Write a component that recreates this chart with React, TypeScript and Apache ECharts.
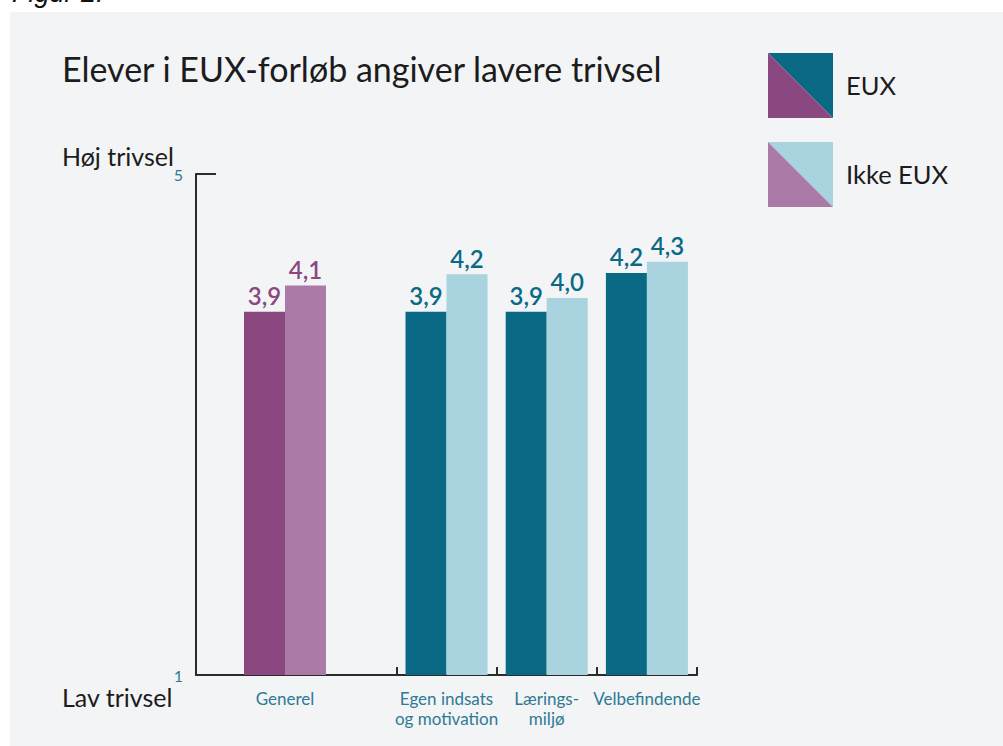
import React, { useEffect, useRef } from "react";
import * as echarts from "echarts";

const mainCategories = ["", "", "Egen indsats\nog motivation", "Lærings-\nmiljø", "Velbefindende"];
const generalCategory = ["Generel"];
const seriesNames = ["EUX", "Ikke EUX"];
const generalEux = [3.9];
const generalIkke = [4.11];
const euxValues: (number | string)[] = ["-", "-", 3.9, 3.9, 4.21];
const ikkeValues: (number | string)[] = ["-", "-", 4.2, 4.01, 4.3];
const yLabelValues = [1, 5];
const yTickValues = [5];

const PURPLE = "#8b4880";
const PURPLE_L = "#ab7ba8";
const TEAL = "#0a6a86";
const TEAL_L = "#a8d3df";
const CAT = "#2d7a93";
const AXIS = "#2b2b2b";
const FONT = "Lato";

const fmt = (p: any) => Number(p.value).toFixed(1).replace(".", ",");

export default function App() {
  const ref = useRef<HTMLDivElement>(null);
  useEffect(() => {
    if (!ref.current) return;
    const chart = echarts.init(ref.current, null, { renderer: "svg" });
    const barLabel = (color: string) => ({
      show: true,
      position: "top",
      distance: 4,
      formatter: fmt,
      color,
      fontFamily: FONT,
      fontSize: 24,
      fontWeight: 600,
    });
    const catLabel = {
      color: CAT,
      fontFamily: FONT,
      fontSize: 17,
      lineHeight: 20,
      margin: 13,
    };
    chart.setOption({
      animation: false,
      backgroundColor: "#ffffff",
      textStyle: { fontFamily: FONT },
      grid: [
        { left: 196, top: 174, width: 501, height: 501, outerBoundsMode: "none" },
        { left: 235, top: 174, width: 100, height: 501, outerBoundsMode: "none" },
      ],
      xAxis: [
        {
          type: "category",
          gridIndex: 0,
          data: mainCategories,
          axisLine: { show: true, lineStyle: { color: AXIS, width: 2 } },
          axisTick: {
            show: true,
            inside: true,
            length: 8,
            interval: (i: number) => i >= 2,
            lineStyle: { color: AXIS, width: 2 },
          },
          axisLabel: { ...catLabel, interval: 0 },
        },
        {
          type: "category",
          gridIndex: 1,
          data: generalCategory,
          axisLine: { show: false },
          axisTick: { show: false },
          axisLabel: { ...catLabel, interval: 0 },
        },
      ],
      yAxis: [
        {
          type: "value",
          gridIndex: 0,
          min: 1,
          max: 5,
          interval: 1,
          axisLine: { show: true, lineStyle: { color: AXIS, width: 2 } },
          axisTick: {
            show: true,
            inside: true,
            length: 20,
            customValues: yTickValues,
            lineStyle: { color: AXIS, width: 2 },
          },
          axisLabel: {
            customValues: yLabelValues,
            color: CAT,
            fontFamily: FONT,
            fontSize: 16,
            margin: 13,
          },
          splitLine: { show: false },
        },
        {
          type: "value",
          gridIndex: 1,
          min: 1,
          max: 5,
          interval: 1,
          show: false,
          splitLine: { show: false },
        },
      ],
      series: [
        {
          name: seriesNames[0],
          type: "bar",
          xAxisIndex: 1,
          yAxisIndex: 1,
          data: generalEux,
          barWidth: 41,
          barGap: "0%",
          itemStyle: { color: PURPLE },
          label: barLabel(PURPLE),
        },
        {
          name: seriesNames[1],
          type: "bar",
          xAxisIndex: 1,
          yAxisIndex: 1,
          data: generalIkke,
          barWidth: 41,
          barGap: "0%",
          itemStyle: { color: PURPLE_L },
          label: barLabel(PURPLE),
        },
        {
          name: seriesNames[0],
          type: "bar",
          xAxisIndex: 0,
          yAxisIndex: 0,
          data: euxValues,
          barWidth: 41,
          barGap: "0%",
          itemStyle: { color: TEAL },
          label: barLabel(TEAL),
        },
        {
          name: seriesNames[1],
          type: "bar",
          xAxisIndex: 0,
          yAxisIndex: 0,
          data: ikkeValues,
          barWidth: 41,
          barGap: "0%",
          itemStyle: { color: TEAL_L },
          label: barLabel(TEAL),
        },
      ],
      graphic: [
        {
          type: "rect",
          z: -100,
          silent: true,
          shape: { x: 10, y: 12, width: 993, height: 734 },
          style: { fill: "#f3f4f6" },
        },
        {
          type: "text",
          x: 12,
          y: 6,
          style: {
            text: "Figur 2.",
            fontFamily: "Liberation Sans",
            fontStyle: "italic",
            fontSize: 27,
            fill: "#111",
            verticalAlign: "bottom",
          },
        },
        {
          type: "text",
          x: 62,
          y: 68,
          style: {
            text: "Elever i EUX-forløb angiver lavere trivsel",
            fontFamily: FONT,
            fontSize: 34,
            fill: "#1c1c1c",
            verticalAlign: "middle",
          },
        },
        {
          type: "text",
          x: 62,
          y: 156,
          style: { text: "Høj trivsel", fontFamily: FONT, fontSize: 25, fill: "#1c1c1c", verticalAlign: "middle" },
        },
        {
          type: "text",
          x: 62,
          y: 697,
          style: { text: "Lav trivsel", fontFamily: FONT, fontSize: 25, fill: "#1c1c1c", verticalAlign: "middle" },
        },
        {
          type: "polygon",
          shape: { points: [[768, 53], [833, 53], [833, 118]] },
          style: { fill: TEAL },
        },
        {
          type: "polygon",
          shape: { points: [[768, 53], [768, 118], [833, 118]] },
          style: { fill: PURPLE },
        },
        {
          type: "polygon",
          shape: { points: [[768, 142], [833, 142], [833, 207]] },
          style: { fill: TEAL_L },
        },
        {
          type: "polygon",
          shape: { points: [[768, 142], [768, 207], [833, 207]] },
          style: { fill: PURPLE_L },
        },
        {
          type: "text",
          x: 846,
          y: 85,
          style: { text: seriesNames[0], fontFamily: FONT, fontSize: 25.5, fill: "#1c1c1c", verticalAlign: "middle" },
        },
        {
          type: "text",
          x: 846,
          y: 174,
          style: { text: seriesNames[1], fontFamily: FONT, fontSize: 25.5, fill: "#1c1c1c", verticalAlign: "middle" },
        },
      ],
    });
    return () => chart.dispose();
  }, []);
  return (
    <div
      ref={ref}
      style={{ position: "fixed", left: 0, top: 0, width: 1003, height: 746 }}
    />
  );
}
